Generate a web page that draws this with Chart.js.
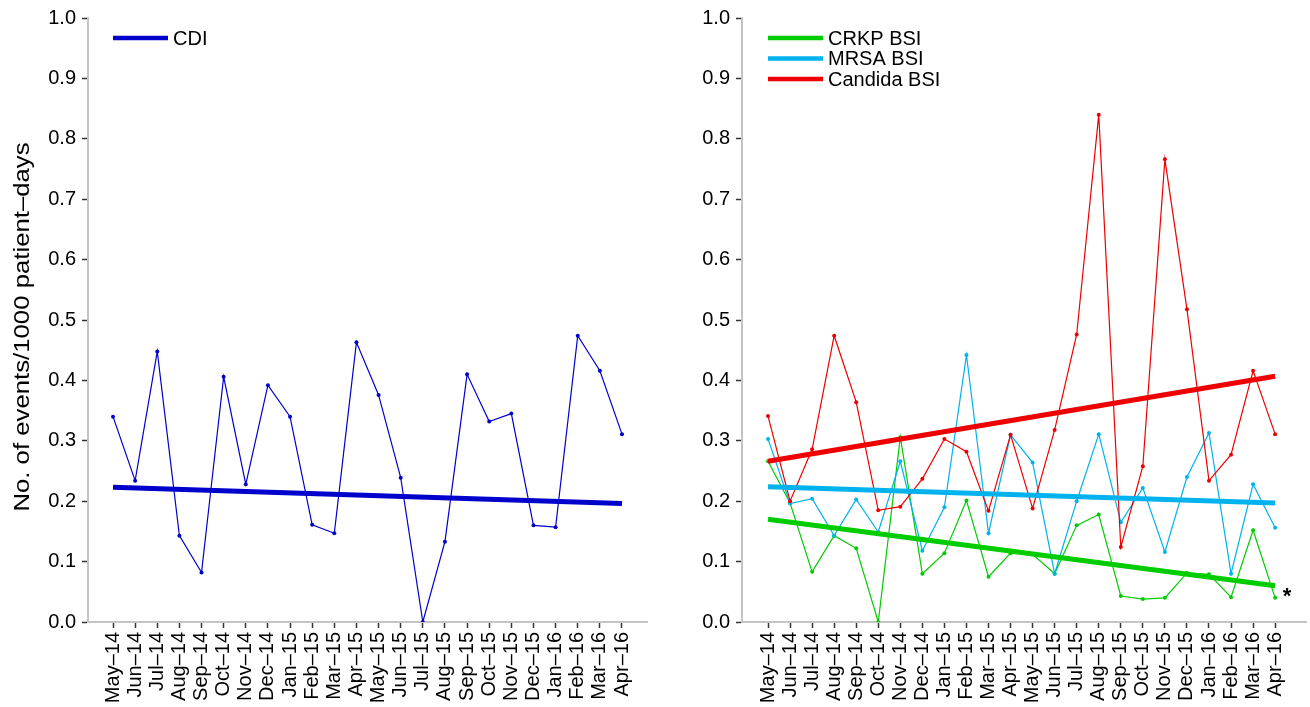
<!DOCTYPE html>
<html>
<head>
<meta charset="utf-8">
<script src="https://cdn.jsdelivr.net/npm/chart.js@4.4.1/dist/chart.umd.min.js"></script>
<style>
  html, body { margin: 0; padding: 0; background: #fff; }
  .wrap { display: flex; width: 1310px; height: 707px; }
  .panel { width: 655px; height: 707px; }
</style>
</head>
<body>
<div class="wrap">
  <div class="panel"><canvas id="cdiChart" width="655" height="707"></canvas></div>
  <div class="panel"><canvas id="bsiChart" width="655" height="707"></canvas></div>
</div>
<script>
// monthly rates
const months = ["May–14", "Jun–14", "Jul–14", "Aug–14", "Sep–14", "Oct–14", "Nov–14", "Dec–14",
  "Jan–15", "Feb–15", "Mar–15", "Apr–15", "May–15", "Jun–15", "Jul–15", "Aug–15",
  "Sep–15", "Oct–15", "Nov–15", "Dec–15", "Jan–16", "Feb–16", "Mar–16", "Apr–16"];
const yTicks = [0.0, 0.1, 0.2, 0.3, 0.4, 0.5, 0.6, 0.7, 0.8, 0.9, 1.0];

const cdi = [0.340, 0.234, 0.448, 0.143, 0.082, 0.406, 0.228, 0.392, 0.340, 0.161, 0.147, 0.463,
  0.376, 0.239, 0.000, 0.133, 0.410, 0.332, 0.345, 0.160, 0.157, 0.474, 0.416, 0.311];
const cdiTrend = [0.223, 0.196];

const crkp = [0.266, 0.197, 0.083, 0.143, 0.122, 0.000, 0.306, 0.080, 0.114, 0.201, 0.075, 0.114,
  0.112, 0.080, 0.160, 0.178, 0.043, 0.038, 0.040, 0.081, 0.079, 0.041, 0.152, 0.040];
const crkpTrend = [0.170, 0.060];

const mrsa = [0.303, 0.196, 0.204, 0.143, 0.203, 0.149, 0.266, 0.118, 0.190, 0.442, 0.147, 0.310,
  0.264, 0.080, 0.200, 0.311, 0.165, 0.222, 0.116, 0.240, 0.313, 0.080, 0.228, 0.156];
const mrsaTrend = [0.224, 0.197];

const candida = [0.341, 0.200, 0.286, 0.474, 0.364, 0.185, 0.191, 0.237, 0.303, 0.282, 0.184, 0.310,
  0.188, 0.318, 0.476, 0.840, 0.124, 0.258, 0.766, 0.518, 0.234, 0.277, 0.416, 0.311];
const candidaTrend = [0.266, 0.407];

const names = ["CDI", "CRKP BSI", "MRSA BSI", "Candida BSI"];
const colors = { cdi: "#0000cc", crkp: "#00cc00", mrsa: "#00b2ee", candida: "#ee0000" };

const FONT = '"Liberation Sans", Arial, Helvetica, sans-serif';
Chart.defaults.font.family = FONT;
Chart.defaults.color = "#000";

const pts = arr => arr.map((v, i) => ({ x: i, y: v }));
const ends = arr => [{ x: 0, y: arr[0] }, { x: months.length - 1, y: arr[1] }];

function series(data, color, order) {
  return { data: pts(data), borderColor: color, backgroundColor: color, borderWidth: 1.2,
    pointRadius: 2, pointBorderWidth: 0, pointBackgroundColor: color, tension: 0, order: order };
}
function trend(data, color, order) {
  return { data: ends(data), borderColor: color, borderWidth: 5, pointRadius: 0,
    borderCapStyle: "butt", tension: 0, order: order };
}

function axes(xMin, xMax, yWidth) {
  const grid = { drawOnChartArea: false, tickLength: 6, tickColor: "#333", tickWidth: 1.5 };
  const border = { color: "#c4c4c4", width: 2 };
  return {
    x: {
      type: "linear", min: xMin, max: xMax,
      afterBuildTicks: s => { s.ticks = months.map((m, i) => ({ value: i })); },
      afterFit: s => { s.height = 85; },
      ticks: { callback: v => months[v], minRotation: 90, maxRotation: 90, autoSkip: false,
        font: { size: 20 }, padding: 4 },
      grid: grid, border: border
    },
    y: {
      min: 0, max: 1,
      afterBuildTicks: s => { s.ticks = yTicks.map(v => ({ value: v })); },
      afterFit: s => { s.width = yWidth; },
      ticks: { callback: v => v.toFixed(1), font: { size: 20 }, padding: 6 },
      grid: grid, border: border
    }
  };
}

// line legend in the top left corner of the plot
const lineLegend = {
  id: "lineLegend",
  afterDraw(chart, args, opts) {
    const { ctx, chartArea, scales } = chart;
    const x0 = scales.x.getPixelForValue(0);
    opts.items.forEach((it, i) => {
      const y = chartArea.top + 20 + i * 20.5;
      ctx.save();
      ctx.strokeStyle = it.color;
      ctx.lineWidth = 4.5;
      ctx.beginPath();
      ctx.moveTo(x0, y);
      ctx.lineTo(x0 + 55, y);
      ctx.stroke();
      ctx.fillStyle = "#000";
      ctx.font = "20px " + FONT;
      ctx.textBaseline = "middle";
      ctx.fillText(it.label, x0 + 60, y + 1);
      ctx.restore();
    });
  }
};

// rotated y title, a little stretched along its length like the original
const yTitle = {
  id: "yTitle",
  afterDraw(chart, args, opts) {
    if (!opts.text) return;
    const { ctx, chartArea } = chart;
    ctx.save();
    ctx.translate(23, (chartArea.top + chartArea.bottom) / 2 + 7);
    ctx.rotate(-Math.PI / 2);
    ctx.scale(1.17, 1);
    ctx.fillStyle = "#000";
    ctx.font = "22px " + FONT;
    ctx.textAlign = "center";
    ctx.textBaseline = "middle";
    ctx.fillText(opts.text, 0, 0);
    ctx.restore();
  }
};

// significance mark at the end of a trend line
const star = {
  id: "star",
  afterDraw(chart, args, opts) {
    if (opts.value === undefined) return;
    const { ctx, scales } = chart;
    ctx.save();
    ctx.fillStyle = "#000";
    ctx.font = "bold 22px " + FONT;
    ctx.textAlign = "center";
    ctx.fillText("*", scales.x.getPixelForValue(months.length - 1) + 12,
      scales.y.getPixelForValue(opts.value) + 17);
    ctx.restore();
  }
};

const base = { responsive: false, animation: false, events: [] };

new Chart(document.getElementById("cdiChart"), {
  type: "line",
  data: { datasets: [series(cdi, colors.cdi, 2), trend(cdiTrend, colors.cdi, 1)] },
  options: Object.assign({}, base, {
    layout: { padding: { top: 17, right: 8, left: 0, bottom: 0 } },
    scales: axes(-1.13, 24.13, 88),
    plugins: { legend: { display: false }, tooltip: { enabled: false },
      lineLegend: { items: [{ label: names[0], color: colors.cdi }] },
      yTitle: { text: "No. of events/1000 patient–days" },
      star: {} }
  }),
  plugins: [lineLegend, yTitle, star]
});

new Chart(document.getElementById("bsiChart"), {
  type: "line",
  data: { datasets: [
    series(crkp, colors.crkp, 6), series(mrsa, colors.mrsa, 5), series(candida, colors.candida, 4),
    trend(crkpTrend, colors.crkp, 3), trend(mrsaTrend, colors.mrsa, 2), trend(candidaTrend, colors.candida, 1)
  ] },
  options: Object.assign({}, base, {
    layout: { padding: { top: 17, right: 3, left: 0, bottom: 0 } },
    scales: axes(-1.18, 24.4, 87),
    plugins: { legend: { display: false }, tooltip: { enabled: false },
      lineLegend: { items: [
        { label: names[1], color: colors.crkp },
        { label: names[2], color: colors.mrsa },
        { label: names[3], color: colors.candida }] },
      yTitle: {},
      star: { value: crkpTrend[1] } }
  }),
  plugins: [lineLegend, yTitle, star]
});
</script>
</body>
</html>
